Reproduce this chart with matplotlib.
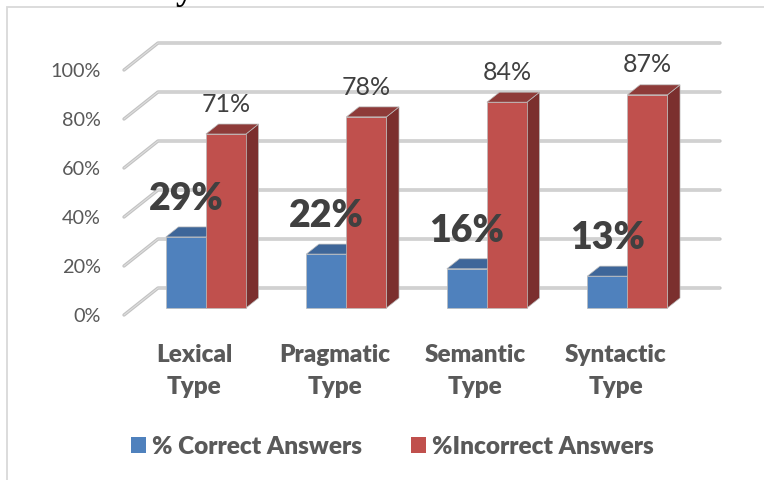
import matplotlib
matplotlib.use('Agg')
import matplotlib.pyplot as plt
from matplotlib.patches import Polygon, Patch, Rectangle

plt.rcParams['font.family'] = ['Lato', 'DejaVu Sans']

categories = ['Lexical\nType', 'Pragmatic\nType', 'Semantic\nType', 'Syntactic\nType']
correct = [29, 22, 16, 13]
incorrect = [71, 78, 84, 87]
y_ticks = [0, 20, 40, 60, 80, 100]
series_names = ['% Correct Answers', '%Incorrect Answers']

BLUE = '#4F81BD'
BLUE_TOP = '#3E6699'
BLUE_SIDE = '#35598A'
RED = '#C0504D'
RED_TOP = '#8E3B39'
RED_SIDE = '#7B2F2E'

# fake 3d: depth offset of the floor, in data units
DX = 34 / 140.5
DY = 27 / 2.45
D0, D1 = 0.26, 0.63     # bar front / back depth
W = 0.285               # one bar width
SHIFT = 0.02


def proj(x, y, d):
    return (x + d * DX, y + d * DY)


def box(ax, x0, x1, v, front, top, side, z):
    f = [proj(x0, 0, D0), proj(x1, 0, D0), proj(x1, v, D0), proj(x0, v, D0)]
    t = [proj(x0, v, D0), proj(x1, v, D0), proj(x1, v, D1), proj(x0, v, D1)]
    s = [proj(x1, 0, D0), proj(x1, 0, D1), proj(x1, v, D1), proj(x1, v, D0)]
    for pts, c in ((s, side), (t, top), (f, front)):
        ax.add_patch(Polygon(pts, closed=True, facecolor=c, edgecolor='#BBBBBB',
                             lw=0.5, zorder=z, clip_on=False))


fig = plt.figure(figsize=(7.64, 4.80), dpi=100)
ax = fig.add_axes([124 / 764, (480 - 315) / 480, 562 / 764, 245 / 480])
ax.set_xlim(-0.5, 3.5)
ax.set_ylim(0, 100)
ax.axis('off')

# chart frame
fig.patches.append(Rectangle((7 / 764, -0.1), 1.2, 1 - 7 / 480 + 0.1,
                             transform=fig.transFigure, fill=False,
                             edgecolor='#D9D9D9', lw=1.3))
# heading of the page, cut off at the top
fig.text(232 / 764, 1 + 1 / 480, 'and Analysis', ha='right', va='baseline',
         family='Liberation Serif', weight='bold', size=26, color='black')

# gridlines: side wall diagonal + back wall
n = len(categories)
for v in y_ticks:
    xs, ys = zip(proj(-0.5, v, 0), proj(-0.5, v, 1), proj(n - 0.5, v, 1))
    ax.plot(xs, ys, color='#C2C2C2', lw=2.4, solid_capstyle='round', zorder=1, clip_on=False)
    ax.plot(xs, ys, color='#DEDEDE', lw=0.8, solid_capstyle='round', zorder=1.1, clip_on=False)
    ax.annotate(f'{v}%', xy=(-0.5, v), xytext=(-16.5, -1), textcoords='offset points',
                ha='right', va='center', fontsize=14.3, color='#595959', annotation_clip=False)

for i in range(n):
    c = i + SHIFT
    box(ax, c - W, c, correct[i], BLUE, BLUE_TOP, BLUE_SIDE, 3 + i)
    box(ax, c, c + W, incorrect[i], RED, RED_TOP, RED_SIDE, 3.5 + i)

    bx, by = proj(c - W / 2, correct[i], D0)
    ax.annotate(f'{correct[i]}%', xy=(bx, by), xytext=(0, 27.5), textcoords='offset points',
                ha='center', va='center', fontsize=27, fontweight=800, color='#404040',
                zorder=10, annotation_clip=False)
    rx, ry = proj(c + W / 2, incorrect[i], D0)
    ax.annotate(f'{incorrect[i]}%', xy=(rx, ry), xytext=(0, 21.5), textcoords='offset points',
                ha='center', va='center', fontsize=18, color='#404040',
                zorder=10, annotation_clip=False)

    ax.annotate(categories[i], xy=(i, 0), xytext=(0, -40), textcoords='offset points',
                ha='center', va='center', fontsize=17.5, fontweight=800, color='#595959',
                linespacing=1.55, annotation_clip=False)

handles = [Patch(facecolor=BLUE), Patch(facecolor=RED)]
fig.legend(handles, series_names, loc='center', ncol=2,
           bbox_to_anchor=(392.5 / 764, 1 - 447 / 480), frameon=False,
           prop={'size': 17.6, 'weight': 800}, labelcolor='#595959',
           handlelength=0.62, handleheight=0.62, handletextpad=0.25,
           columnspacing=2.0, borderpad=0)

fig.savefig('out.png', dpi=100)
